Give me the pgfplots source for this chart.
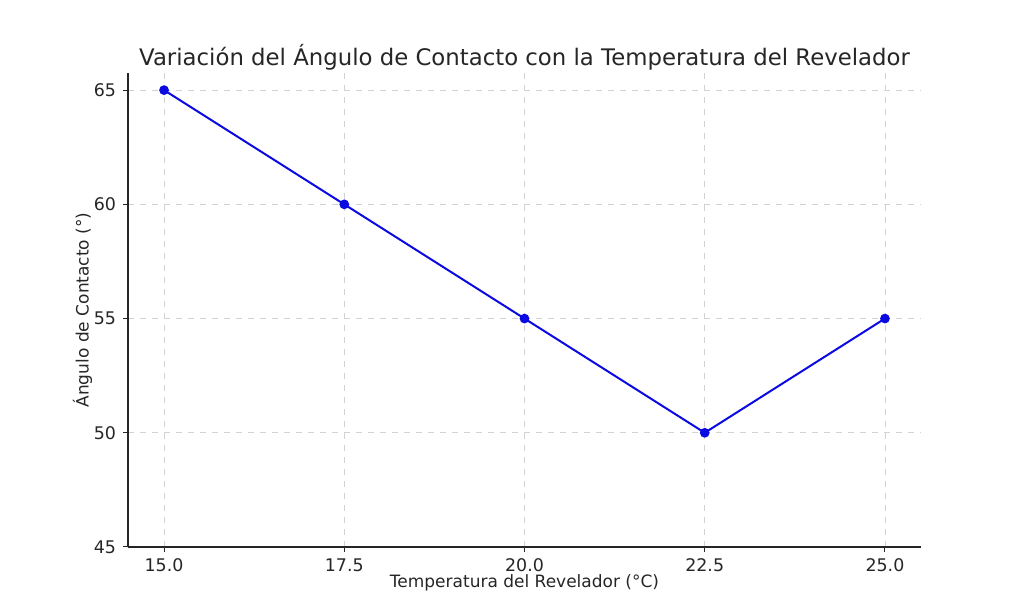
\documentclass[border=0pt]{standalone}
\usepackage{pgfplots}
\pgfplotsset{compat=1.18}
\usepackage{fontspec}
\setmainfont{DejaVu Sans}
\definecolor{txt}{RGB}{38,38,38}
\definecolor{linec}{RGB}{10,10,225}
\begin{document}
\begin{tikzpicture}
\begin{axis}[
  scale only axis,
  width=396.5pt, height=237pt,
  xmin=14.5, xmax=25.5, ymin=45, ymax=65.75,
  axis x line*=bottom, axis y line*=left,
  axis line style={line width=0.6pt, black!85},
  xtick={15,17.5,20,22.5,25},
  xticklabels={15.0,17.5,20.0,22.5,25.0},
  ytick={45,50,55,60,65},
  tick align=outside, tick pos=left,
  major tick length=2.5pt,
  tick style={black!85, line width=0.5pt},
  grid=major,
  grid style={dashed, gray!35, line width=0.4pt},
  ticklabel style={font=\fontsize{8.7}{10}\selectfont, text=txt},
  /pgf/number format/assume math mode=true,
  xlabel={Temperatura del Revelador (°C)},
  ylabel={Ángulo de Contacto (°)},
  label style={font=\fontsize{8.5}{10}\selectfont, text=txt},
  xlabel style={yshift=5.5pt},
  ylabel style={yshift=-6pt},
  title={Variación del Ángulo de Contacto con la Temperatura del Revelador},
  title style={font=\fontsize{11.4}{13}\selectfont, text=txt, yshift=-8pt},
  clip=false,
]
\addplot[linec, line width=1pt, mark=*, mark size=1.9pt, mark options={fill=linec, draw=linec}]
coordinates {(15,65) (17.5,60) (20,55) (22.5,50) (25,55)};
\end{axis}
\path[use as bounding box] ([shift={(-64pt,-33.5pt)}]current axis.south west) rectangle ([shift={(51.5pt,36.5pt)}]current axis.north east);
\end{tikzpicture}
\end{document}
